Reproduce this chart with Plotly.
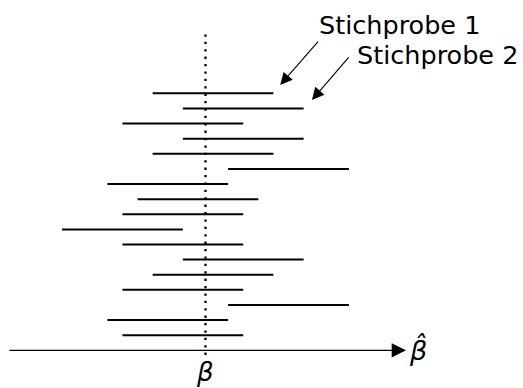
import plotly.graph_objects as go

# Confidence intervals from repeated samples around the true beta (= 0)
beta = 0.0
half_width = 4.0
# point estimates, listed from the bottom sample (1) up to the top sample (17)
estimates = [-1.5, -2.5, 5.5, -1.5, 0.5, 2.5, -1.5, -5.5, -1.5,
             -0.5, -2.5, 5.5, 0.5, 2.5, -1.5, 2.5, 0.5]
samples = list(range(1, len(estimates) + 1))
labels = ["Stichprobe 1", "Stichprobe 2"]

xs, ys = [], []
for k, est in zip(samples, estimates):
    xs += [est - half_width, est + half_width, None]
    ys += [k, k, None]

fig = go.Figure()
fig.add_trace(go.Scatter(x=xs, y=ys, mode="lines",
                         line=dict(color="black", width=2),
                         hoverinfo="skip", showlegend=False))
# dotted vertical line at the true beta
fig.add_trace(go.Scatter(x=[beta, beta], y=[-0.3, 21.0], mode="lines",
                         line=dict(color="black", width=2.3, dash="2.3px,5.1px"),
                         hoverinfo="skip", showlegend=False))

ann = []
# horizontal axis with arrow
ann.append(dict(x=13.28, y=0, ax=-13.08, ay=0, xref="x", yref="y",
                axref="x", ayref="y", text="", showarrow=True,
                arrowhead=2, arrowsize=2.2, arrowwidth=1.3, arrowcolor="black"))
ann.append(dict(x=14.05, y=0.05, xref="x", yref="y", text="<i>β̂</i>",
                showarrow=False, xanchor="center", yanchor="middle",
                font=dict(family="DejaVu Sans", size=27, color="black")))
ann.append(dict(x=beta, y=-1.45, xref="x", yref="y", text="<i>β</i>",
                showarrow=False, xanchor="center", yanchor="middle",
                borderpad=0,
                font=dict(family="DejaVu Sans", size=26, color="black")))

# sample labels with pointers to the first two intervals
top = samples[-1]
ends = [estimates[-1] + half_width, estimates[-2] + half_width]
text_pos = [(7.4, 21.55), (9.93, 19.53)]
tails = [(7.54, 20.52), (9.57, 19.47)]
heads = [(ends[0] + 0.45, top + 0.55), (ends[1] + 0.55, top - 1 + 0.56)]
for lab, (tx, ty), (ax_, ay_), (hx, hy) in zip(labels, text_pos, tails, heads):
    ann.append(dict(x=tx, y=ty, xref="x", yref="y", text=lab,
                    showarrow=False, xanchor="left", yanchor="middle",
                    font=dict(family="DejaVu Sans", size=25.5, color="black")))
    ann.append(dict(x=hx, y=hy, ax=ax_, ay=ay_, xref="x", yref="y",
                    axref="x", ayref="y", text="", showarrow=True,
                    arrowhead=2, arrowsize=2.2, arrowwidth=1.1,
                    arrowcolor="black"))

fig.update_layout(
    width=523, height=388,
    margin=dict(l=0, r=0, t=0, b=0),
    paper_bgcolor="white", plot_bgcolor="white",
    xaxis=dict(range=[-13.61, 21.03], visible=False, fixedrange=True),
    yaxis=dict(range=[-2.49, 23.17], visible=False, fixedrange=True),
    annotations=ann,
)

fig.write_html("out.html")
